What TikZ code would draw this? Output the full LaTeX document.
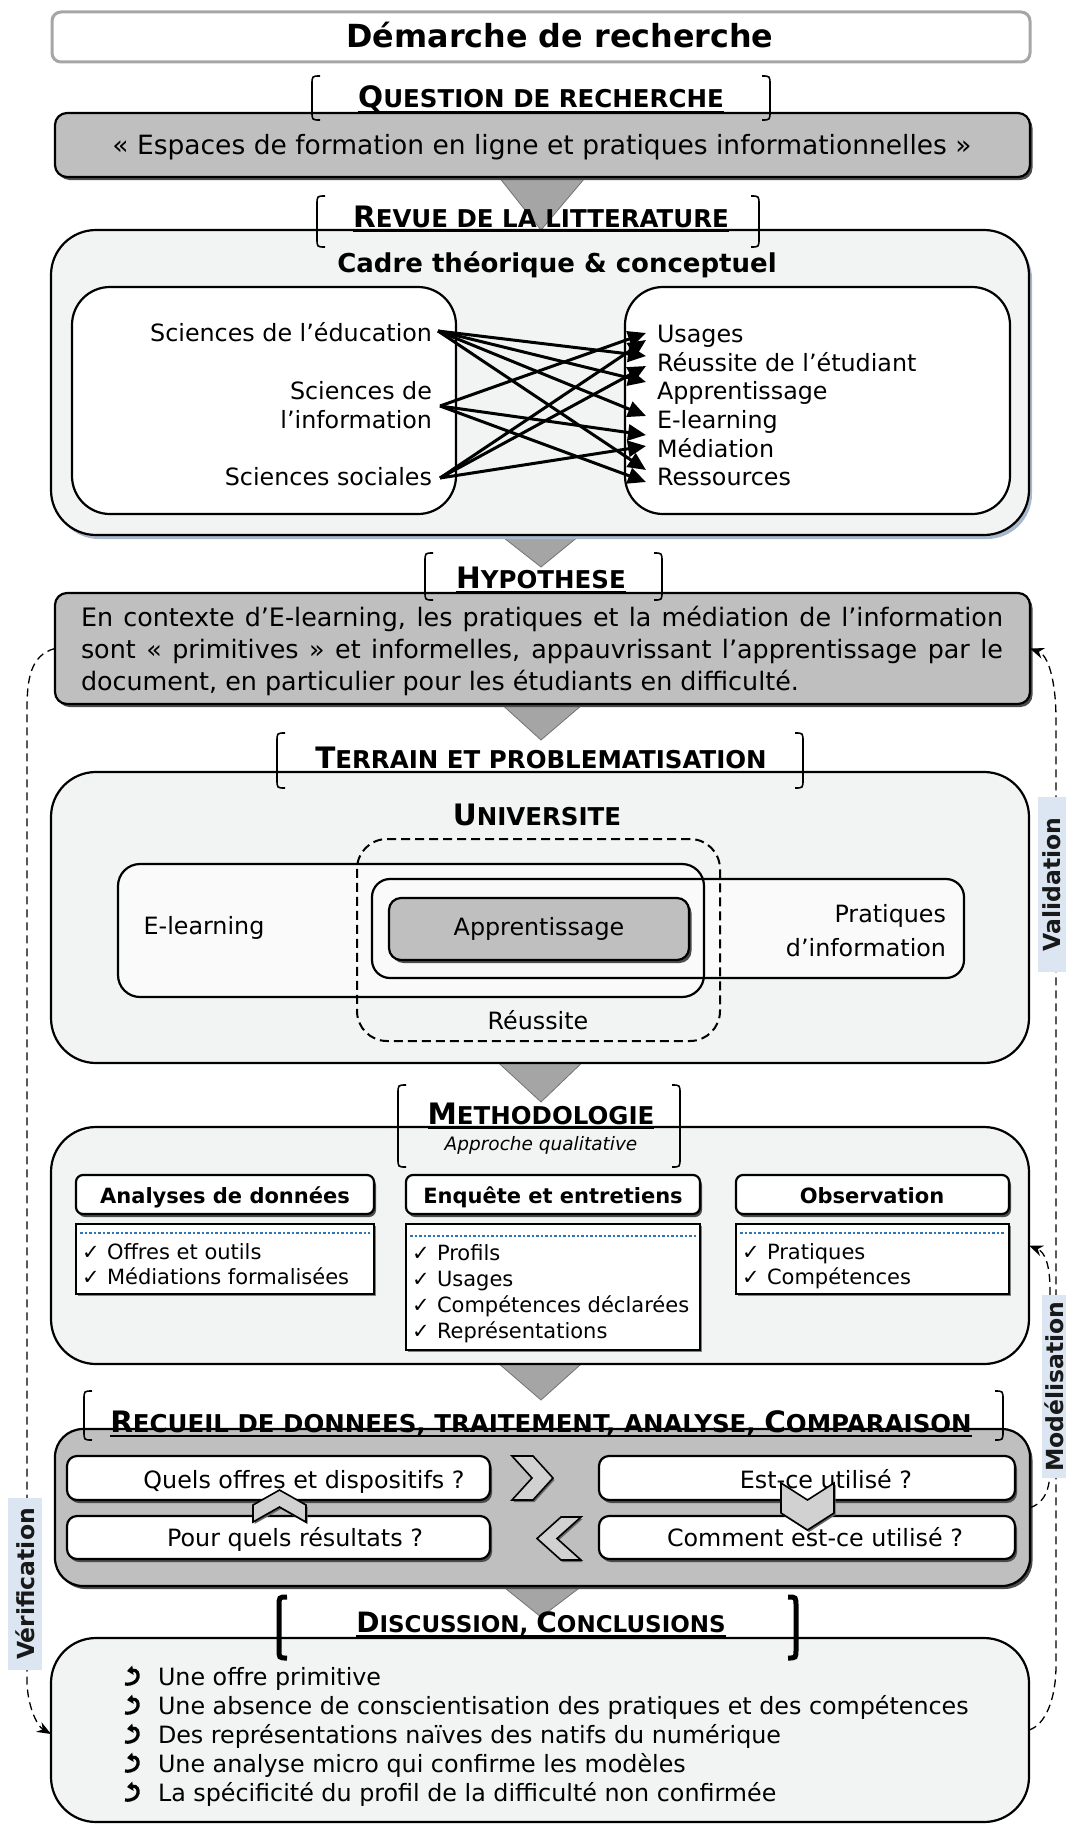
\documentclass[tikz,border=0pt]{standalone}
\usepackage{fontspec}
\setmainfont{DejaVu Sans}
\usetikzlibrary{shadows,arrows.meta,backgrounds}
\definecolor{boxgray}{HTML}{BFBFBF}
\definecolor{lightbg}{HTML}{F2F3F3}
\definecolor{trigray}{HTML}{A5A5A5}
\definecolor{labelblue}{HTML}{DCE6F2}
\definecolor{dotblue}{HTML}{2E75B6}
\definecolor{shblue}{HTML}{A8B8CE}
\definecolor{titlegray}{HTML}{A6A6A6}
\definecolor{innerwhite}{HTML}{FAFAFA}
\newcommand\FS[2]{\fontsize{#1}{#2}\selectfont}
\newcommand\Hb[1]{{\FS{29.5}{33}#1}}
\newcommand\Hs[1]{{\FS{24.5}{29}#1}}
\newcommand\ulbox[1]{\setbox0=\hbox{#1}\rlap{\rule[-5pt]{\wd0}{2pt}}\box0}
\newcommand\brkt[5][]{%
  \draw[brk,#1] (#2+8,#4) .. controls (#2,#4) .. (#2,#4+9) -- (#2,#5-9) .. controls (#2,#5) .. (#2+8,#5);
  \draw[brk,#1] (#3-8,#4) .. controls (#3,#4) .. (#3,#4+9) -- (#3,#5-9) .. controls (#3,#5) .. (#3-8,#5);}
\newcommand\cbul[1]{\draw[line width=3.2pt,-{Triangle[length=6pt,width=9pt]}] (125,#1-1) .. controls (141,#1+1) and (141,#1-16) .. (127,#1-14);}
\begin{document}
\begin{tikzpicture}[x=1pt,y=-1pt,
  every node/.style={inner sep=0pt,outer sep=0pt},
  body/.style={font=\FS{23.8}{29}},
  hd/.style={font=\bfseries,anchor=base},
  brk/.style={line width=1.6pt,draw=black},
  tri/.style={fill=trigray,draw=black!55,line width=0.8pt},
  box/.style={anchor=north west},
  graybox/.style={box,draw=black,line width=2.2pt,fill=boxgray,rounded corners=12pt,
     drop shadow={shadow xshift=2.5pt,shadow yshift=-3pt,fill=black!70,opacity=1}},
  lightbox/.style={box,draw=black,line width=2.2pt,fill=lightbg,rounded corners=45pt},
  whitebox/.style={box,draw=black,line width=2.2pt,fill=white,rounded corners=10pt,
     drop shadow={shadow xshift=2pt,shadow yshift=-3pt,fill=black!70,opacity=1}},
  listbox/.style={box,draw=black,line width=2.2pt,fill=white,
     drop shadow={shadow xshift=1.5pt,shadow yshift=-2pt,fill=black!50,opacity=1}},
  dotline/.style={draw=dotblue,line width=1.8pt,dash pattern=on 2.5pt off 2pt},
  lbl/.style={fill=labelblue,rotate=90,font=\bfseries\FS{23.5}{28},text=black!90},
  sidedash/.style={line width=1.3pt,dash pattern=on 8pt off 5pt,-{Stealth[length=14pt,width=11pt]}},
  cnx/.style={line width=3pt,-{Triangle[length=18pt,width=16pt]}},
  chev/.style={fill=black!18,draw=black,line width=1.6pt,
     drop shadow={shadow xshift=1.5pt,shadow yshift=-2pt,fill=black!60,opacity=1}},
  itm/.style={font=\FS{21}{26},anchor=base west},
  lt/.style={body,anchor=base east},
  rt/.style={body,anchor=base west}
]
\useasboundingbox (0,0) rectangle (1066,1825);

% ---------- Title
\node[box,draw=titlegray,line width=3pt,fill=white,rounded corners=9pt,minimum width=978pt,minimum height=50pt] (title) at (52,12) {};
\node[font=\bfseries\FS{31.8}{36},anchor=base] (titletxt) at (560,48) {Démarche de recherche};

% ---------- Question
\node[graybox,minimum width=975pt,minimum height=64pt] (qbox) at (55,113) {};
\node[font=\FS{26.5}{31},anchor=base] (qtxt) at (542,154) {« Espaces de formation en ligne et pratiques informationnelles »};
\node[hd] (qhead) at (541,108) {\ulbox{\Hb{Q}\Hs{UESTION DE RECHERCHE}}};
\brkt{312}{770}{76}{120}

% ---------- Literature
\node[lightbox,minimum width=978pt,minimum height=305pt,drop shadow={shadow xshift=3pt,shadow yshift=-4pt,fill=shblue,opacity=1}] (lit) at (51,230) {};
\node[hd] (lithead) at (541,227) {\ulbox{\Hb{R}\Hs{EVUE DE LA LITTERATURE}}};
\brkt{317}{759}{196}{247}
\node[font=\bfseries\FS{26}{30},anchor=base] (cadre) at (557,272) {Cadre théorique \& conceptuel};
\node[box,draw=black,line width=2.2pt,fill=white,rounded corners=38pt,minimum width=384pt,minimum height=227pt] (disc) at (72,287) {};
\node[box,draw=black,line width=2.2pt,fill=white,rounded corners=38pt,minimum width=385pt,minimum height=227pt] (conc) at (625,287) {};
\node[lt] (sedu) at (432,341) {Sciences de l’éducation};
\node[lt] (sinf1) at (432,399) {Sciences de};
\node[lt] (sinf2) at (432,428) {l’information};
\node[lt] (ssoc) at (432,485) {Sciences sociales};
\node[rt] (cusa) at (657,342) {Usages};
\node[rt] (creu) at (657,371) {Réussite de l’étudiant};
\node[rt] (capp) at (657,399) {Apprentissage};
\node[rt] (celn) at (657,428) {E-learning};
\node[rt] (cmed) at (657,457) {Médiation};
\node[rt] (cres) at (657,485) {Ressources};
\coordinate (aE) at (438,331);
\coordinate (aI) at (440,406);
\coordinate (aS) at (440,478);
\coordinate (tU1) at (646,333);
\coordinate (tU2) at (646,340);
\coordinate (tR1) at (646,356);
\coordinate (tR2) at (646,366);
\coordinate (tA) at (646,382);
\coordinate (tEl) at (646,416);
\coordinate (tM1) at (646,435);
\coordinate (tM2) at (646,446);
\coordinate (tRs1) at (646,470);
\coordinate (tRs2) at (646,482);
\draw[cnx] (aE) -- (tR1);
\draw[cnx] (aE) -- (tA);
\draw[cnx] (aE) -- (tEl);
\draw[cnx] (aE) -- (tRs1);
\draw[cnx] (aI) -- (tU1);
\draw[cnx] (aI) -- (tM1);
\draw[cnx] (aI) -- (tRs2);
\draw[cnx] (aS) -- (tU2);
\draw[cnx] (aS) -- (tR2);
\draw[cnx] (aS) -- (tM2);

% ---------- Hypothesis
\node[graybox,minimum width=975pt,minimum height=111pt] (hypo) at (55,593) {};
\node[text width=922pt,align=justify,font=\FS{25.4}{32}] (hypotxt) at (542,651) {En contexte d’E-learning, les pratiques et la médiation de l’information\linebreak sont « primitives » et informelles, appauvrissant l’apprentissage par le\linebreak document, en particulier pour les étudiants en difficulté.};
\node[hd] (hyphead) at (541,588) {\ulbox{\Hb{H}\Hs{YPOTHESE}}};
\brkt{425}{662}{553}{600}

% ---------- Terrain
\node[lightbox,minimum width=978pt,minimum height=291pt] (terr) at (51,772) {};
\node[hd] (terrhead) at (541,768) {\ulbox{\Hb{T}\Hs{ERRAIN ET PROBLEMATISATION}}};
\brkt{277}{803}{733}{788}
\node[font=\bfseries,anchor=base] (univ) at (537,825) {\Hb{U}\Hs{NIVERSITE}};
\node[box,fill=innerwhite,rounded corners=22pt,minimum width=586pt,minimum height=133pt] (elbox) at (118,864) {};
\node[box,fill=innerwhite,rounded corners=18pt,minimum width=592pt,minimum height=99pt] (prbox) at (372,879) {};
\draw[line width=2.2pt,rounded corners=22pt] (elbox.north west) rectangle (elbox.south east);
\draw[line width=2.2pt,rounded corners=18pt] (prbox.north west) rectangle (prbox.south east);
\node[box,draw=black,line width=2pt,dash pattern=on 9pt off 5pt,rounded corners=30pt,minimum width=363pt,minimum height=202pt] (reus) at (357,839) {};
\node[graybox,minimum width=300pt,minimum height=62pt] (appbox) at (389,898) {};
\node[body,anchor=base] (eltxt) at (204,934) {E-learning};
\node[body,anchor=base east] (prtxt1) at (946,922) {Pratiques};
\node[body,anchor=base east] (prtxt2) at (946,956) {d’information};
\node[body,anchor=base] (apptxt) at (539,935) {Apprentissage};
\node[body,anchor=base] (reustxt) at (538,1029) {Réussite};

% ---------- Methodology
\node[lightbox,minimum width=978pt,minimum height=237pt] (meth) at (51,1127) {};
\node[hd] (methhead) at (541,1124) {\ulbox{\Hb{M}\Hs{ETHODOLOGIE}}};
\node[font=\itshape\FS{18.5}{22},anchor=base] (approche) at (541,1150) {Approche qualitative};
\brkt{398}{680}{1085}{1167}
\node[whitebox,rounded corners=7pt,minimum width=298pt,minimum height=39pt] (h1) at (76,1175) {};
\node[whitebox,rounded corners=7pt,minimum width=294pt,minimum height=39pt] (h2) at (406,1175) {};
\node[whitebox,rounded corners=7pt,minimum width=273pt,minimum height=39pt] (h3) at (736,1175) {};
\node[font=\bfseries\FS{21}{25},anchor=base] (h1t) at (225,1203) {Analyses de données};
\node[font=\bfseries\FS{21}{25},anchor=base] (h2t) at (553,1203) {Enquête et entretiens};
\node[font=\bfseries\FS{21}{25},anchor=base] (h3t) at (872,1203) {Observation};
\node[listbox,minimum width=298pt,minimum height=70pt] (l1) at (76,1224) {};
\node[listbox,minimum width=294pt,minimum height=126pt] (l2) at (406,1224) {};
\node[listbox,minimum width=273pt,minimum height=70pt] (l3) at (736,1224) {};
\draw[dotline] (80,1233) -- (370,1233);
\draw[dotline] (410,1236) -- (696,1236);
\draw[dotline] (740,1233) -- (1005,1233);
\node[itm] (k11) at (82,1259) {✓};
\node[itm] (i11) at (107,1259) {Offres et outils};
\node[itm] (k12) at (82,1284) {✓};
\node[itm] (i12) at (107,1284) {Médiations formalisées};
\node[itm] (k21) at (412,1260) {✓};
\node[itm] (i21) at (437,1260) {Profils};
\node[itm] (k22) at (412,1286) {✓};
\node[itm] (i22) at (437,1286) {Usages};
\node[itm] (k23) at (412,1312) {✓};
\node[itm] (i23) at (437,1312) {Compétences déclarées};
\node[itm] (k24) at (412,1338) {✓};
\node[itm] (i24) at (437,1338) {Représentations};
\node[itm] (k31) at (742,1259) {✓};
\node[itm] (i31) at (767,1259) {Pratiques};
\node[itm] (k32) at (742,1284) {✓};
\node[itm] (i32) at (767,1284) {Compétences};

% ---------- Recueil
\node[graybox,rounded corners=28pt,minimum width=975pt,minimum height=157pt] (rec) at (55,1429) {};
\node[hd] (rechead) at (541,1432) {\ulbox{\Hb{R}\Hs{ECUEIL DE DONNEES, TRAITEMENT, ANALYSE, }\Hb{C}\Hs{OMPARAISON}}};
\brkt{84}{1003}{1391}{1440}
\node[whitebox,minimum width=423pt,minimum height=44pt] (q1) at (67,1456) {};
\node[whitebox,minimum width=416pt,minimum height=44pt] (q2) at (599,1456) {};
\node[whitebox,minimum width=423pt,minimum height=43pt] (q3) at (67,1516) {};
\node[whitebox,minimum width=416pt,minimum height=43pt] (q4) at (599,1516) {};
\node[body,anchor=base] (q1t) at (304,1488) {Quels offres et dispositifs ?};
\node[body,anchor=base] (q2t) at (826,1488) {Est-ce utilisé ?};
\node[body,anchor=base] (q3t) at (295,1546) {Pour quels résultats ?};
\node[body,anchor=base] (q4t) at (815,1546) {Comment est-ce utilisé ?};
\filldraw[chev] (512,1456) -- (533,1456) -- (553,1478) -- (533,1500) -- (512,1500) -- (532,1478) -- cycle;
\filldraw[chev] (581,1517) -- (561,1517) -- (537,1538.5) -- (561,1560) -- (581,1560) -- (557,1538.5) -- cycle;
\filldraw[chev] (253,1522) -- (253,1505) -- (279.5,1490) -- (306,1505) -- (306,1522) -- (279.5,1507) -- cycle;
\filldraw[chev] (781,1483) -- (807.5,1500) -- (834,1483) -- (834,1513) -- (807.5,1530) -- (781,1513) -- cycle;

% ---------- Discussion
\node[lightbox,minimum width=978pt,minimum height=184pt] (concl) at (51,1638) {};
\node[hd] (dischead) at (541,1632) {\ulbox{{\FS{28}{32}D}{\FS{23}{28}ISCUSSION, }{\FS{28}{32}C}{\FS{23}{28}ONCLUSIONS}}};
\brkt[line width=5pt]{279}{796}{1597}{1658}
\node[body,anchor=base west] (c1) at (158,1685) {Une offre primitive};
\node[body,anchor=base west] (c2) at (158,1714) {Une absence de conscientisation des pratiques et des compétences};
\node[body,anchor=base west] (c3) at (158,1743) {Des représentations naïves des natifs du numérique};
\node[body,anchor=base west] (c4) at (158,1772) {Une analyse micro qui confirme les modèles};
\node[body,anchor=base west] (c5) at (158,1801) {La spécificité du profil de la difficulté non confirmée};
\cbul{1685}
\cbul{1714}
\cbul{1743}
\cbul{1772}
\cbul{1801}

% ---------- Triangles between stages (behind)
\begin{scope}[on background layer]
\filldraw[tri] ([xshift=-50pt,yshift=8pt]qbox.south) -- ([xshift=50pt,yshift=8pt]qbox.south) -- (541,230) -- cycle;
\filldraw[tri] ([xshift=-50pt,yshift=8pt]lit.south) -- ([xshift=50pt,yshift=8pt]lit.south) -- (541,567) -- cycle;
\filldraw[tri] ([xshift=-50pt,yshift=8pt]hypo.south) -- ([xshift=50pt,yshift=8pt]hypo.south) -- (541,740) -- cycle;
\filldraw[tri] ([xshift=-50pt,yshift=8pt]terr.south) -- ([xshift=50pt,yshift=8pt]terr.south) -- (541,1102) -- cycle;
\filldraw[tri] ([xshift=-50pt,yshift=8pt]meth.south) -- ([xshift=50pt,yshift=8pt]meth.south) -- (541,1400) -- cycle;
\filldraw[tri] ([xshift=-50pt,yshift=8pt]rec.south) -- ([xshift=50pt,yshift=8pt]rec.south) -- (541,1617) -- cycle;
\end{scope}

% ---------- Side loops
\draw[sidedash] (hypo.west) .. controls (30,655) and (27,680) .. (27,710) -- (27,1680) .. controls (27,1705) and (37,1726) .. (concl.west |- 0,1734);
\draw[sidedash] (concl.east) .. controls (1045,1725) and (1056,1700) .. (1056,1665) -- (1056,720) .. controls (1056,680) and (1048,655) .. (hypo.east);
\draw[sidedash] (rec.east) .. controls (1040,1505) and (1050,1495) .. (1050,1470) -- (1050,1290) .. controls (1050,1265) and (1045,1252) .. (meth.east);
\node[lbl,minimum width=175pt,minimum height=28pt] (valid) at (1052,884.5) {Validation};
\node[lbl,minimum width=183pt,minimum height=24pt] (model) at (1054,1386.5) {Modélisation};
\node[lbl,minimum width=172pt,minimum height=34pt] (verif) at (25,1584) {Vérification};
\end{tikzpicture}
\end{document}
